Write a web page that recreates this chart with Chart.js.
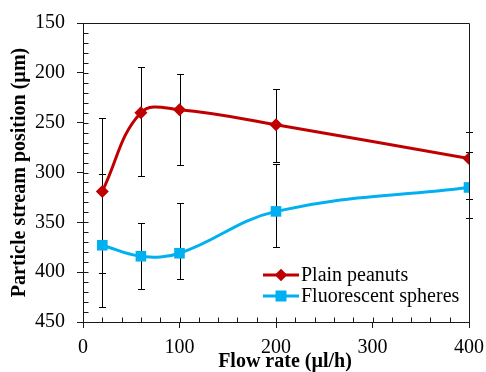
<!DOCTYPE html>
<html>
<head>
<meta charset="utf-8">
<script src="https://cdn.jsdelivr.net/npm/chart.js@4/dist/chart.umd.min.js"></script>
<style>
html,body{margin:0;padding:0;background:#fff;}
#wrap{width:486px;height:372px;}
</style>
</head>
<body>
<div id="wrap"><canvas id="c" width="486" height="372"></canvas></div>
<script>
// ---- data ----
const flowRates = [20, 60, 100, 200, 400];
const peanuts = [319, 240, 237, 252, 286];
const peanutsErrLow = [245, 194, 201, 216, 259];   // smaller value end
const peanutsErrHigh = [401, 304, 292, 289, 327];  // larger value end
const spheres = [373, 384, 381, 339, 315];
const spheresErrLow = [302, 351, 331, 291, 279];
const spheresErrHigh = [435, 417, 407, 375, 346];
const seriesNames = ['Plain peanuts', 'Fluorescent spheres'];
const xTitle = 'Flow rate (µl/h)';
const yTitle = 'Particle stream position (µm)';
const xTicks = [0, 100, 200, 300, 400];
const yTicks = [150, 200, 250, 300, 350, 400, 450];

const RED = '#C00000', BLUE = '#00B0F0', AX = '#1a1a1a';
const FONT = "'Liberation Serif', 'Times New Roman', serif";

const toPts = (xs, ys) => xs.map((x, i) => ({x: x, y: ys[i]}));
const errSets = [
  {lo: peanutsErrLow, hi: peanutsErrHigh},
  {lo: spheresErrLow, hi: spheresErrHigh}
];

const errorBars = {
  id: 'errorBars',
  beforeDatasetsDraw(chart) {
    const {ctx, scales: {x, y}} = chart;
    ctx.save();
    ctx.strokeStyle = '#000';
    ctx.lineWidth = 1;
    errSets.forEach(es => {
      flowRates.forEach((fx, i) => {
        const px = Math.round(x.getPixelForValue(fx)) + 0.5;
        const y1 = Math.round(y.getPixelForValue(es.lo[i])) + 0.5;
        const y2 = Math.round(y.getPixelForValue(es.hi[i])) + 0.5;
        ctx.beginPath();
        ctx.moveTo(px, y1); ctx.lineTo(px, y2);
        ctx.moveTo(px - 3.5, y1); ctx.lineTo(px + 3.5, y1);
        ctx.moveTo(px - 3.5, y2); ctx.lineTo(px + 3.5, y2);
        ctx.stroke();
      });
    });
    ctx.restore();
  }
};

const frameAndTicks = {
  id: 'frameAndTicks',
  afterDatasetsDraw(chart) {
    const {ctx, chartArea: a, scales: {x, y}} = chart;
    ctx.save();
    ctx.strokeStyle = AX;
    ctx.lineWidth = 1;
    ctx.beginPath();
    const L = Math.round(a.left) + 0.5, R = Math.round(a.right) + 0.5;
    const T = Math.round(a.top) + 0.5, B = Math.round(a.bottom) + 0.5;
    ctx.moveTo(L, T); ctx.lineTo(R, T); ctx.lineTo(R, B);
    for (let v = yTicks[0]; v <= yTicks[yTicks.length - 1]; v += 10) {
      const py = Math.round(y.getPixelForValue(v)) + 0.5;
      ctx.moveTo(L, py); ctx.lineTo(L + 5, py);
    }
    for (let v = xTicks[0]; v <= xTicks[xTicks.length - 1]; v += 20) {
      const px = Math.round(x.getPixelForValue(v)) + 0.5;
      ctx.moveTo(px, B); ctx.lineTo(px, B - 5);
    }
    ctx.stroke();
    ctx.restore();
  },
  afterDraw(chart) {
    const {ctx} = chart;
    const items = [
      {label: seriesNames[0], color: RED, style: 'rectRot', r: 6, y: 275},
      {label: seriesNames[1], color: BLUE, style: 'rect', r: 7.5, y: 296}
    ];
    ctx.save();
    items.forEach(it => {
      ctx.strokeStyle = it.color;
      ctx.lineWidth = 3;
      ctx.beginPath();
      ctx.moveTo(263, it.y); ctx.lineTo(299, it.y);
      ctx.stroke();
      ctx.fillStyle = it.color;
      Chart.helpers.drawPoint(ctx, {pointStyle: it.style, radius: it.r, rotation: 0, borderWidth: 0}, 281, it.y);
      ctx.fill();
      ctx.fillStyle = '#000';
      ctx.font = '20px ' + FONT;
      ctx.textBaseline = 'middle';
      ctx.textAlign = 'left';
      ctx.fillText(it.label, 301, it.y + 1);
    });
    // x-axis title (centred as in the reference, slightly right of plot centre)
    ctx.font = 'bold 20px ' + FONT;
    ctx.textAlign = 'center';
    ctx.textBaseline = 'middle';
    ctx.fillText(xTitle, 285, 362);
    ctx.restore();
  }
};

new Chart(document.getElementById('c'), {
  type: 'line',
  data: {
    datasets: [
      {
        label: seriesNames[0],
        data: toPts(flowRates, peanuts),
        borderColor: RED, backgroundColor: RED,
        borderWidth: 3, pointStyle: 'rectRot', pointRadius: 6.5,
        pointBorderWidth: 0, tension: 0.4
      },
      {
        label: seriesNames[1],
        data: toPts(flowRates, spheres),
        borderColor: BLUE, backgroundColor: BLUE,
        borderWidth: 3, pointStyle: 'rect', pointRadius: 7.5,
        pointBorderWidth: 0, tension: 0.4
      }
    ]
  },
  options: {
    responsive: false,
    animation: false,
    events: [],
    layout: {padding: {top: 23, right: 17, left: 0, bottom: 0}},
    plugins: {legend: {display: false}, tooltip: {enabled: false}},
    scales: {
      x: {
        type: 'linear', min: 0, max: 400,
        afterFit: s => { s.height = 50; s.paddingLeft = 0; s.paddingRight = 0; },
        afterBuildTicks: s => { s.ticks = xTicks.map(v => ({value: v})); },
        grid: {drawOnChartArea: false, tickLength: 6, color: AX},
        border: {color: AX, width: 1},
        ticks: {color: '#000', padding: 8, font: {family: FONT, size: 20}},
        title: {display: false}
      },
      y: {
        reverse: true, min: 150, max: 450,
        afterFit: s => { s.width = 83; s.paddingTop = 0; s.paddingBottom = 0; },
        afterBuildTicks: s => { s.ticks = yTicks.map(v => ({value: v})); },
        grid: {drawOnChartArea: false, tickLength: 6, color: AX},
        border: {color: AX, width: 1},
        ticks: {color: '#000', padding: 12, font: {family: FONT, size: 20}},
        title: {display: true, text: yTitle, color: '#000',
                font: {family: FONT, size: 20, weight: 'bold', lineHeight: 1}, padding: {top: 10, bottom: 0}}
      }
    }
  },
  plugins: [errorBars, frameAndTicks]
});
</script>
</body>
</html>
